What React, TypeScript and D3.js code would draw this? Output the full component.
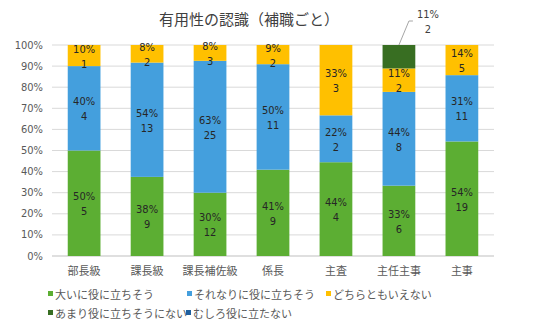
import React from "react";
import * as d3 from "d3";

const categories = ["部長級", "課長級", "課長補佐級", "係長", "主査", "主任主事", "主事"];
const seriesNames = ["大いに役に立ちそう", "それなりに役に立ちそう", "どちらともいえない", "あまり役に立ちそうにない", "むしろ役に立たない"];
const seriesColors = ["#5CAE33", "#449FDD", "#FFC000", "#386E22", "#1E5F9E"];
const great = [5, 9, 12, 9, 4, 6, 19];
const fair = [4, 13, 25, 11, 2, 8, 11];
const neutral = [1, 2, 3, 2, 3, 2, 5];
const notReally = [0, 0, 0, 0, 0, 2, 0];
const rather = [0, 0, 0, 0, 0, 0, 0];
const yTicks = [0, 10, 20, 30, 40, 50, 60, 70, 80, 90, 100];

const W = 536, H = 336;
const NUM_FONT = "'Liberation Sans Narrow', 'DejaVu Sans Condensed', sans-serif";
const JP_FONT = "'Noto Sans CJK JP', sans-serif";

export default function App() {
  const series = [great, fair, neutral, notReally, rather];
  const totals = categories.map((_, i) => series.reduce((s, a) => s + a[i], 0));
  const x = d3.scaleBand().domain(categories).range([52, 494]).paddingInner(0.48).paddingOuter(0.25);
  const y = d3.scaleLinear().domain([0, 100]).range([256, 45]);

  const segs: any[] = [];
  categories.forEach((c, i) => {
    let acc = 0;
    series.forEach((s, k) => {
      const v = s[i];
      if (v <= 0) return;
      const p = (v / totals[i]) * 100;
      segs.push({ c, i, k, v, p, y0: acc, y1: acc + p });
      acc += p;
    });
  });

  const legendRows = [
    [{ k: 0, x: 48 }, { k: 1, x: 187 }, { k: 2, x: 326 }],
    [{ k: 3, x: 48 }, { k: 4, x: 186 }],
  ];
  const legendY = [295, 314];

  return (
    <svg width={W} height={H} style={{ position: "absolute", left: 0, top: 0, background: "#fff" }}>
      <rect width={W} height={H} fill="#fff" />
      <text x={249} y={25} textAnchor="middle" fontFamily={JP_FONT} fontSize={15} fill="#404040">有用性の認識（補職ごと）</text>
      {yTicks.map((t) => (
        <g key={t}>
          <line x1={52} x2={494} y1={y(t)} y2={y(t)} stroke={t === 0 ? "#BFBFBF" : "#D9D9D9"} strokeWidth={1} />
          <text x={43} y={y(t) + 3.5} textAnchor="end" fontFamily={NUM_FONT} fontSize={11} fill="#595959">{t}%</text>
        </g>
      ))}
      {segs.map((s, j) => (
        <rect key={j} x={x(s.c)} width={x.bandwidth()} y={y(s.y1)} height={y(s.y0) - y(s.y1)} fill={seriesColors[s.k]} />
      ))}
      {segs.map((s, j) => {
        const cx = (x(s.c) as number) + x.bandwidth() / 2;
        if (s.k === 3) {
          const top = y(s.y1);
          return (
            <g key={"l" + j}>
              <polyline points={`${cx},${top} ${cx + 10},${21} ${cx + 14},${21}`} fill="none" stroke="#A6A6A6" strokeWidth={1} />
              <text x={cx + 29} y={18} textAnchor="middle" fontFamily={NUM_FONT} fontSize={11} fill="#404040">{Math.round(s.p)}%</text>
              <text x={cx + 29} y={33} textAnchor="middle" fontFamily={NUM_FONT} fontSize={11} fill="#404040">{s.v}</text>
            </g>
          );
        }
        const cy = (y(s.y0) + y(s.y1)) / 2;
        return (
          <g key={"l" + j}>
            <text x={cx} y={cy - 3} textAnchor="middle" fontFamily={NUM_FONT} fontSize={11} fill="#262626">{Math.round(s.p)}%</text>
            <text x={cx} y={cy + 12} textAnchor="middle" fontFamily={NUM_FONT} fontSize={11} fill="#262626">{s.v}</text>
          </g>
        );
      })}
      {categories.map((c) => (
        <text key={c} x={(x(c) as number) + x.bandwidth() / 2} y={275} textAnchor="middle" fontFamily={JP_FONT} fontSize={11} fill="#595959">{c}</text>
      ))}
      {legendRows.map((row, r) =>
        row.map((it) => (
          <g key={it.k}>
            <rect x={it.x} y={legendY[r] - 4} width={5} height={5} fill={seriesColors[it.k]} />
            <text x={it.x + 7} y={legendY[r] + 4} fontFamily={JP_FONT} fontSize={11} fill="#595959">{seriesNames[it.k]}</text>
          </g>
        ))
      )}
    </svg>
  );
}
